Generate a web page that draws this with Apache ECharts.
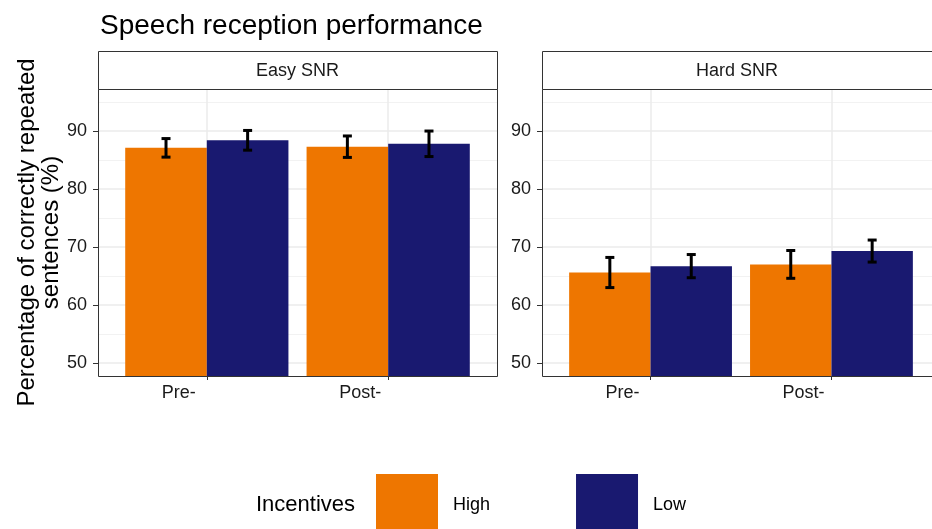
<!DOCTYPE html>
<html>
<head>
<meta charset="utf-8">
<script src="https://cdn.jsdelivr.net/npm/echarts@6/dist/echarts.min.js"></script>
<style>html,body{margin:0;padding:0;background:#fff;}#chart{width:932px;height:529px;}</style>
</head>
<body>
<div id="chart"></div>
<script>
// ---- data ----
const categories = ['Pre-', 'Post-'];
const panels = ['Easy SNR', 'Hard SNR'];
const groups = ['High', 'Low'];
const easyHigh = [87.1, 87.3];
const easyHighErr = [1.6, 1.85];
const easyLow = [88.4, 87.8];
const easyLowErr = [1.7, 2.2];
const hardHigh = [65.6, 67.0];
const hardHighErr = [2.6, 2.4];
const hardLow = [66.7, 69.3];
const hardLowErr = [2.0, 1.9];
const yTicks = [50, 60, 70, 80, 90];
const yMinorTicks = [55, 65, 75, 85, 95];
const yMin = 47.75, yMax = 97.25;
const title = 'Speech reception performance';
const yTitle = 'Percentage of correctly repeated\nsentences (%)';
const legendTitle = 'Incentives';

// ---- build ----
const FONT = 'Liberation Sans';
const colors = { High: '#EE7600', Low: '#191970' };
const catPos = categories.map((c, i) => i + 1);
const panelValues = [
  { High: easyHigh, HighErr: easyHighErr, Low: easyLow, LowErr: easyLowErr },
  { High: hardHigh, HighErr: hardHighErr, Low: hardLow, LowErr: hardLowErr }
];
const W = 932;
const gridsLayout = [
  { left: 98, top: 89, width: 399, height: 287 },
  { left: 542, top: 89, width: 398, height: 287 }
];

const grids = [], xAxes = [], yAxes = [], series = [], graphics = [];
panels.forEach((p, pi) => {
  const g = gridsLayout[pi];
  grids.push({ show: false, left: g.left, top: g.top, width: g.width, height: g.height, containLabel: false, outerBoundsMode: 'none' });
  xAxes.push({
    type: 'value', gridIndex: pi, min: 0.4, max: categories.length + 0.6,
    axisLine: { show: false },
    axisTick: { show: true, length: 4, lineStyle: { color: '#333' }, customValues: catPos },
    axisLabel: {
      customValues: catPos, margin: 8, fontSize: 18, fontFamily: FONT, color: '#1a1a1a',
      padding: [0, 56, 0, 0],
      formatter: v => categories[Math.round(v) - 1] || ''
    },
    splitLine: { show: true, lineStyle: { color: '#ebebeb', width: 1.5 } }
  });
  // major y axis
  yAxes.push({
    type: 'value', gridIndex: pi, min: yMin, max: yMax,
    axisLine: { show: false },
    axisTick: { show: true, length: 5, lineStyle: { color: '#333' }, customValues: yTicks },
    axisLabel: { customValues: yTicks, margin: 11, fontSize: 18, fontFamily: FONT, color: '#1a1a1a' },
    splitLine: { show: true, lineStyle: { color: '#ebebeb', width: 1.5 } },
    name: pi === 0 ? yTitle : '',
    nameLocation: 'middle', nameRotate: 90, nameGap: 35,
    nameTextStyle: { fontSize: 24, fontFamily: FONT, color: '#000', lineHeight: 24, align: 'center' }
  });
  // minor grid y axis
  yAxes.push({
    type: 'value', gridIndex: pi, min: yMin, max: yMax, position: 'left', z: -1,
    axisLine: { show: false }, axisLabel: { show: false },
    axisTick: { show: false, customValues: yMinorTicks },
    splitLine: { show: true, lineStyle: { color: '#f2f2f2', width: 1 } }
  });
  const yIdx = pi * 2;
  groups.forEach((gname, gi) => {
    series.push({
      type: 'bar', name: gname, xAxisIndex: pi, yAxisIndex: yIdx,
      barGap: '0%', barCategoryGap: '10%',
      itemStyle: { color: colors[gname] },
      data: catPos.map((x, i) => [x, panelValues[pi][gname][i]]),
      z: 2
    });
  });
  const errData = [];
  groups.forEach((gname, gi) => {
    catPos.forEach((x, i) => {
      const v = panelValues[pi][gname][i], e = panelValues[pi][gname + 'Err'][i];
      errData.push([x, v - e, v + e, gi === 0 ? -1 : 1]);
    });
  });
  series.push({
    type: 'custom', xAxisIndex: pi, yAxisIndex: yIdx, z: 4, silent: true,
    data: errData,
    renderItem: function (params, api) {
      const x = api.value(0), lo = api.value(1), hi = api.value(2), side = api.value(3);
      const band = api.size([1, 0])[0];
      const dx = side * band * 0.225;
      const pLo = api.coord([x, lo]), pHi = api.coord([x, hi]);
      const cx = pLo[0] + dx, cap = 4.5;
      const st = { stroke: '#000', lineWidth: 3, lineCap: 'butt' };
      return {
        type: 'group', children: [
          { type: 'line', shape: { x1: cx, y1: pLo[1], x2: cx, y2: pHi[1] }, style: st },
          { type: 'line', shape: { x1: cx - cap, y1: pLo[1], x2: cx + cap, y2: pLo[1] }, style: st },
          { type: 'line', shape: { x1: cx - cap, y1: pHi[1], x2: cx + cap, y2: pHi[1] }, style: st }
        ]
      };
    }
  });
  // panel border (on top)
  graphics.push({
    type: 'rect', shape: { x: g.left + 0.5, y: g.top + 0.5, width: g.width, height: g.height },
    style: { fill: null, stroke: '#333', lineWidth: 1 }, z: 100, silent: true
  });
  // strip
  graphics.push({
    type: 'rect', shape: { x: g.left + 0.5, y: 51.5, width: g.width, height: 38 },
    style: { fill: '#fff', stroke: '#333', lineWidth: 1 }, z: 100
  });
  graphics.push({
    type: 'text', x: g.left + g.width / 2 - (pi === 1 ? 4 : 0), y: 71,
    style: { text: p, fontSize: 18, fontFamily: FONT, fill: '#1a1a1a', align: 'center', verticalAlign: 'middle' }, z: 101
  });
});

graphics.push({
  type: 'text', x: 256, y: 505,
  style: { text: legendTitle, fontSize: 22, fontFamily: FONT, fill: '#000', align: 'left', verticalAlign: 'middle' }
});

const chart = echarts.init(document.getElementById('chart'), null, { renderer: 'canvas' });
chart.setOption({
  animation: false,
  backgroundColor: '#fff',
  title: { text: title, left: 95, top: 7, textStyle: { fontSize: 28, fontWeight: 'normal', fontFamily: FONT, color: '#000' } },
  grid: grids,
  xAxis: xAxes,
  yAxis: yAxes,
  legend: {
    data: groups, left: 371, top: 469, orient: 'horizontal',
    icon: 'rect', itemWidth: 62, itemHeight: 62, itemGap: 86,
    selectedMode: false,
    textStyle: { fontSize: 18, fontFamily: FONT, color: '#000', padding: [6, 0, 0, 10], width: 40 }
  },
  graphic: graphics,
  series: series
});
</script>
</body>
</html>
